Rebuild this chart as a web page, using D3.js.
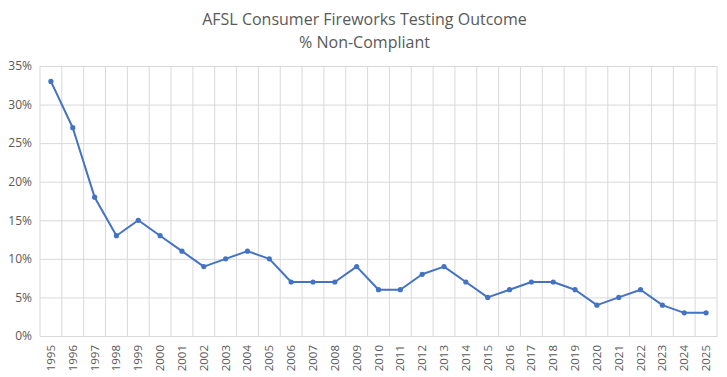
<!DOCTYPE html>
<html><head><meta charset="utf-8">
<script src="https://cdn.jsdelivr.net/npm/d3@7"></script>
<style>body{margin:0;background:#fff}</style>
</head><body><svg id="c" width="727" height="377"></svg>
<script>
const years = ["1995","1996","1997","1998","1999","2000","2001","2002","2003","2004","2005","2006","2007","2008","2009","2010","2011","2012","2013","2014","2015","2016","2017","2018","2019","2020","2021","2022","2023","2024","2025"];
const nonCompliant = [33,27,18,13,15,13,11,9,10,11,10,7,7,7,9,6,6,8,9,7,5,6,7,7,6,4,5,6,4,3,3];
const yTicks = [0,5,10,15,20,25,30,35];
const titleLines = ["AFSL Consumer Fireworks Testing Outcome","% Non-Compliant"];

const svg = d3.select("#c");
const m = {l:40, r:10, t:66, b:41};
const W = 727, H = 377;
const x = d3.scaleBand().domain(years).range([m.l, W-m.r]);
const y = d3.scaleLinear().domain([0,35]).range([H-m.b, m.t]);
const font = "'Open Sans', 'Liberation Sans', sans-serif";

// horizontal gridlines
const gy = svg.append("g").attr("transform",`translate(${m.l},0)`)
  .call(d3.axisLeft(y).tickValues(yTicks).tickSize(-(W-m.l-m.r)).tickFormat(d=>d+"%").tickPadding(8));
gy.select(".domain").remove();
gy.selectAll("line").attr("stroke","#d9d9d9");
gy.selectAll("text").attr("fill","#595959").style("font-family",font).style("font-size","12px");

// vertical gridlines at band boundaries
const bounds = years.map(d=>x(d)).concat([x(years[years.length-1])+x.bandwidth()]);
svg.append("g").selectAll("line").data(bounds).join("line")
  .attr("x1",d=>d).attr("x2",d=>d).attr("y1",y(35)).attr("y2",y(0))
  .attr("stroke","#d9d9d9");

// x axis
const gx = svg.append("g").attr("transform",`translate(0,${y(0)})`)
  .call(d3.axisBottom(x).tickSize(0).tickPadding(0));
gx.select(".domain").attr("stroke","#d9d9d9");
gx.selectAll("text").attr("fill","#595959").style("font-family",font).style("font-size","11.5px")
  .attr("transform","rotate(-90)").attr("text-anchor","end").attr("dy","0.35em").attr("x",-9).attr("y",0);

// line
const line = d3.line().x((d,i)=>x(years[i])+x.bandwidth()/2).y(d=>y(d));
svg.append("path").datum(nonCompliant).attr("d",line).attr("fill","none")
  .attr("stroke","#4472C4").attr("stroke-width",2).attr("stroke-linejoin","round");
svg.append("g").selectAll("circle").data(nonCompliant).join("circle")
  .attr("cx",(d,i)=>x(years[i])+x.bandwidth()/2).attr("cy",d=>y(d)).attr("r",2.6)
  .attr("fill","#4472C4");

// title
svg.append("g").selectAll("text").data(titleLines).join("text")
  .attr("x",W/2+1).attr("y",(d,i)=>25+i*23).attr("text-anchor","middle")
  .attr("fill","#595959").style("font-family",font).style("font-size","16px").text(d=>d);
</script></body></html>
